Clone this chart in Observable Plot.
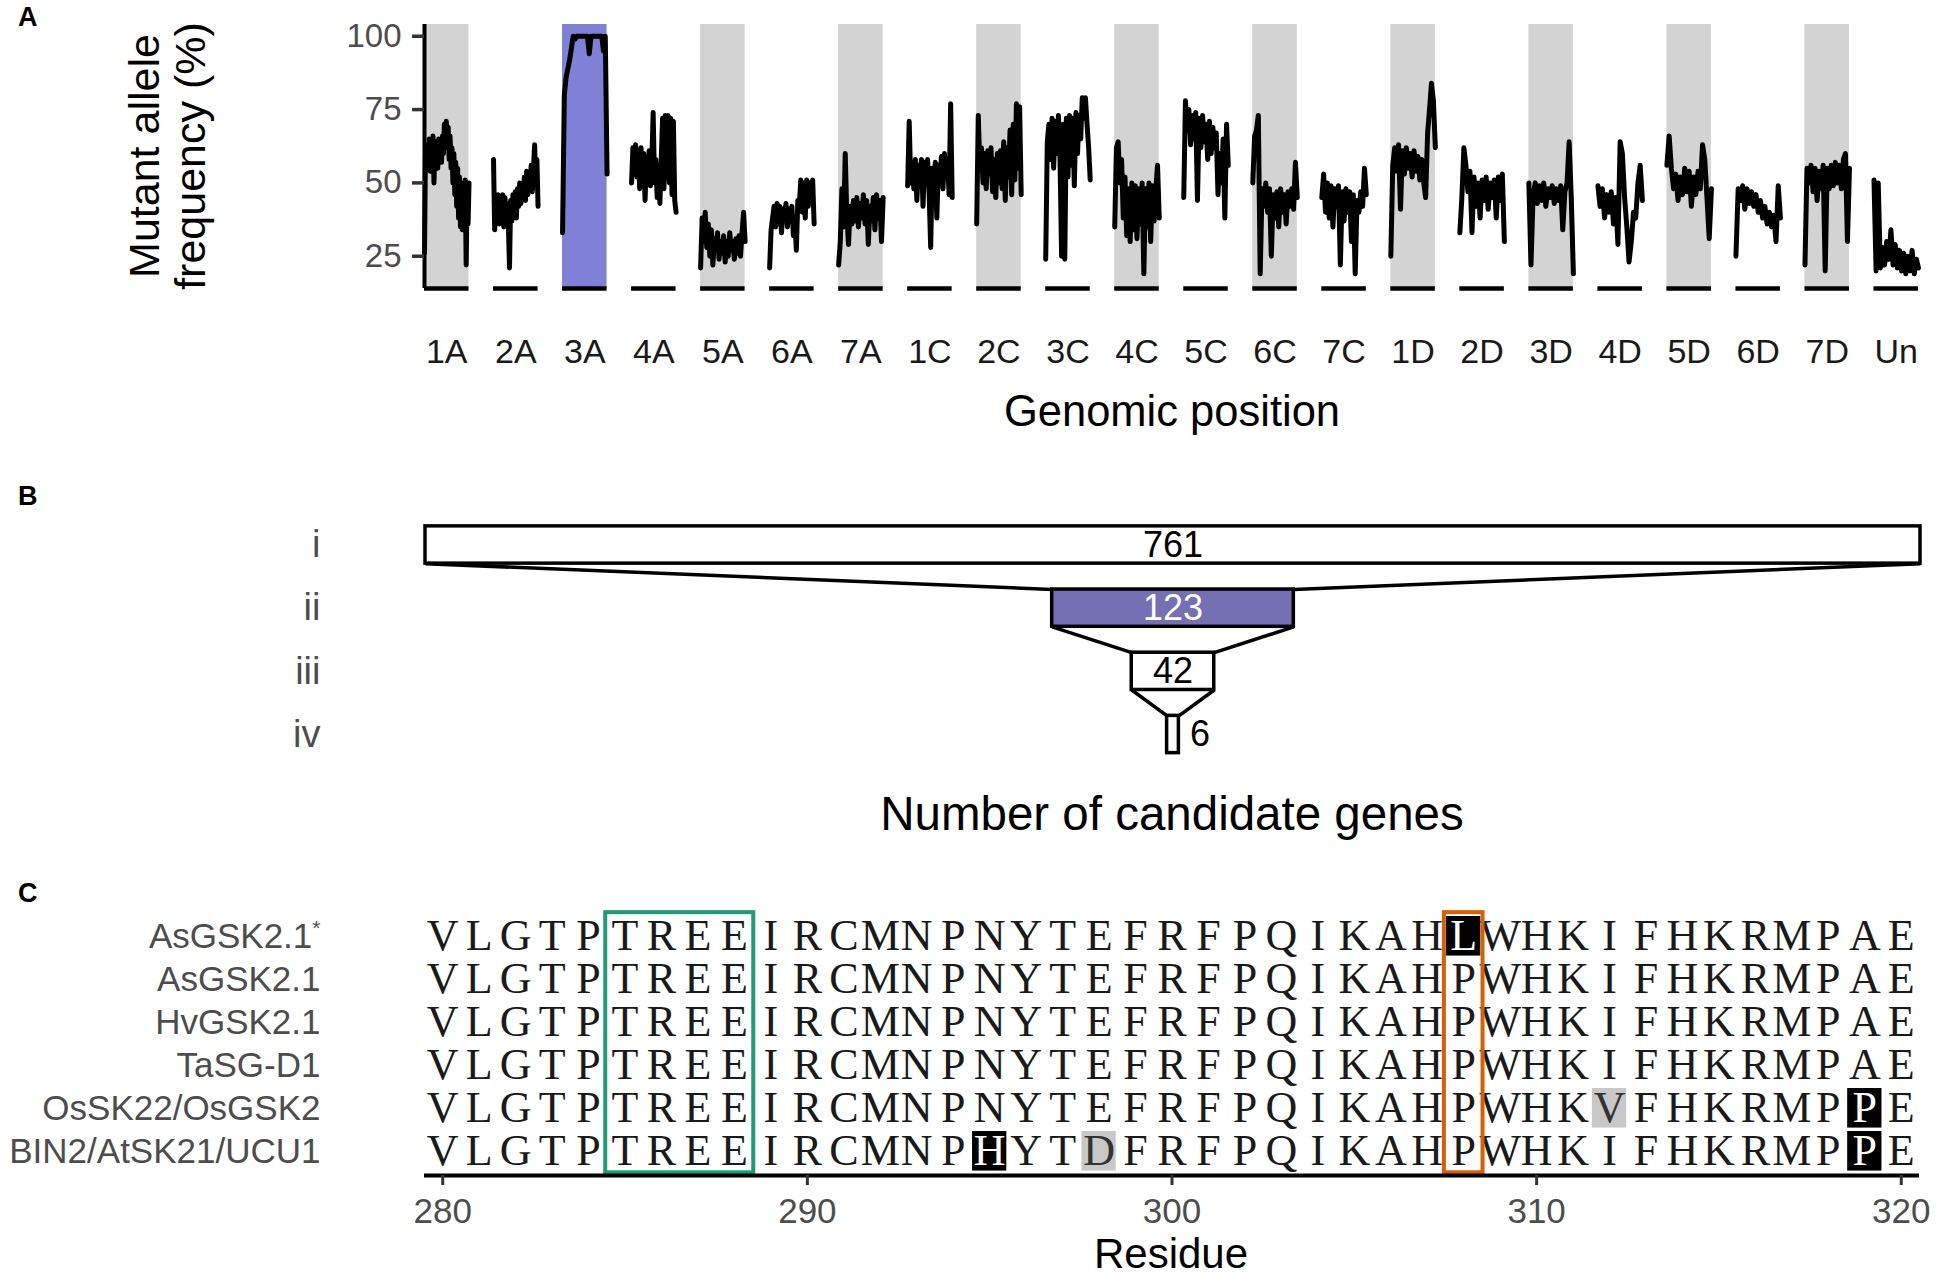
<!DOCTYPE html>
<html><head><meta charset="utf-8">
<script src="https://cdn.jsdelivr.net/npm/d3@7"></script>
<script src="https://cdn.jsdelivr.net/npm/@observablehq/plot@0.6"></script>
<style>
body{margin:0;background:#fff;}
#wrap{position:relative;width:1949px;height:1278px;overflow:hidden;font-family:"Liberation Sans",Arial,sans-serif;background:#fff;}
.panel{position:absolute;left:0;}
#overlay{position:absolute;left:0;top:0;pointer-events:none;}
</style></head><body>
<div id="wrap">
  <div class="panel" id="pa" style="top:0px"></div>
  <div class="panel" id="pb" style="top:470px"></div>
  <div class="panel" id="pc" style="top:870px"></div>
  <svg id="overlay" width="1949" height="1278" font-family="Liberation Sans, Arial, sans-serif">
    <text x="18" y="26" font-size="27" font-weight="bold">A</text>
    <text x="18" y="505" font-size="27" font-weight="bold">B</text>
    <text x="18" y="902" font-size="27" font-weight="bold">C</text>
    <text transform="translate(158.5,156) rotate(-90)" text-anchor="middle" font-size="43">Mutant allele</text>
    <text transform="translate(205,156) rotate(-90)" text-anchor="middle" font-size="43">frequency (%)</text>
    <text x="1172" y="426" text-anchor="middle" font-size="43.5">Genomic position</text>
    <text x="1172" y="830" text-anchor="middle" font-size="47.5">Number of candidate genes</text>
    <text x="1171" y="1268" text-anchor="middle" font-size="42">Residue</text>
  </svg>
</div>
<script>
// ---------- Panel A data: mutant allele frequency (%) along each chromosome ----------
const chroms = ["1A","2A","3A","4A","5A","6A","7A","1C","2C","3C","4C","5C","6C","7C","1D","2D","3D","4D","5D","6D","7D","Un"];
const highlightChrom = "3A";
const c1A = [26,60,55,63,57,65,54,62,58,66,50,63,56,64,55,65,59,63,57,66,60,70,62,71,64,69,58,66,55,62,50,60,46,57,42,55,38,52,35,50,34,48,38,51,22,47,36,50];
const c2A = [58,34,45,37,46,36,44,38,46,35,45,39,43,36,21,44,37,46,40,47,38,48,42,50,43,49,45,52,44,54,46,53,48,56,47,55,63,50,58,42];
const c3A = [33,80,86,89,92,96,100,99,100,100,100,100,100,100,100,94,100,100,100,100,100,100,100,95,100,53];
const c4A = [50,62,54,63,52,61,48,62,55,60,44,58,52,61,49,57,74,50,58,45,56,43,58,72,48,73,52,73,50,72,46,71,44,40];
const c5A = [21,38,30,40,28,36,25,34,22,31,27,33,24,30,26,32,23,30,25,33,27,30,24,31,26,32,25,33,40,30];
const c6A = [21,34,38,42,35,43,36,42,33,41,37,43,35,41,38,42,32,38,27,44,42,51,40,50,38,51,42,50,44,51,36];
const c7A = [22,30,48,35,60,38,29,42,36,44,37,45,35,43,38,46,36,44,29,42,37,45,34,46,38,44,30,45];
const c1C = [49,71,50,57,48,58,44,56,49,58,42,57,50,58,46,28,55,49,57,38,56,50,59,48,60,52,58,46,77,45];
const c2C = [36,73,55,62,50,60,48,61,53,62,47,58,45,60,50,61,48,64,44,62,52,68,46,70,51,77,55,76,46];
const c3C = [24,64,70,58,72,55,71,60,73,58,25,70,24,72,52,73,56,72,49,74,60,73,65,79,72,79,70,62,51];
const c4C = [35,62,64,50,58,38,52,32,48,30,50,34,49,31,48,36,50,19,48,35,50,30,49,37,48,56,38];
const c5C = [45,78,68,75,63,73,65,74,44,72,62,73,64,70,58,71,60,69,62,67,46,60,50,65,38,70,56];
const c6C = [50,66,68,73,19,48,42,50,40,48,25,46,38,47,35,48,40,46,36,47,42,48,41,57,45];
const c7C = [45,53,40,50,38,49,35,48,42,49,22,47,37,48,40,47,30,46,19,44,40,47,42,55,46];
const c1D = [25,56,62,54,63,41,61,53,62,55,60,52,61,54,59,51,58,50,45,67,75,84,78,62];
const c2D = [33,45,62,56,47,54,33,52,42,50,38,51,44,52,41,50,45,51,38,52,44,53,30];
const c3D = [50,22,46,50,43,49,44,50,42,48,45,49,43,48,44,49,34,47,50,64,45,19];
const c4D = [49,42,48,38,46,40,47,36,45,29,64,60,45,35,23,30,40,38,50,56,44];
const c5D = [56,66,55,48,53,44,52,46,55,47,54,42,52,46,54,48,63,58,45,31,48];
const c6D = [25,48,44,49,41,48,43,47,42,46,40,44,38,42,36,40,35,39,30,49,38];
const c7D = [22,55,50,56,47,55,44,54,48,56,20,55,48,56,49,57,50,56,48,58,60,30,55];
const cUn = [51,20,50,21,28,22,30,24,34,22,29,21,27,20,26,19,25,20,27,19,24,21];
const afSeries = [c1A,c2A,c3A,c4A,c5A,c6A,c7A,c1C,c2C,c3C,c4C,c5C,c6C,c7C,c1D,c2D,c3D,c4D,c5D,c6D,c7D,cUn];
const yTicksA = [25,50,75,100];

// ---------- Panel B data: candidate gene funnel ----------
const stages = ["i","ii","iii","iv"];
const geneCounts = [761,123,42,6];
const highlightStage = "ii";

// ---------- Panel C data: alignment ----------
const seqNames = ["AsGSK2.1","AsGSK2.1","HvGSK2.1","TaSG-D1","OsSK22/OsGSK2","BIN2/AtSK21/UCU1"];
const sequences = [
  "VLGTPTREEIRCMNPNYTEFRFPQIKAHLWHKIFHKRMPAE",
  "VLGTPTREEIRCMNPNYTEFRFPQIKAHPWHKIFHKRMPAE",
  "VLGTPTREEIRCMNPNYTEFRFPQIKAHPWHKIFHKRMPAE",
  "VLGTPTREEIRCMNPNYTEFRFPQIKAHPWHKIFHKRMPAE",
  "VLGTPTREEIRCMNPNYTEFRFPQIKAHPWHKVFHKRMPPE",
  "VLGTPTREEIRCMNPHYTDFRFPQIKAHPWHKIFHKRMPPE"
];
const firstResidue = 280;
const residueTicks = [280,290,300,310,320];
const hlRows = [0,4,4,5,5,5];
const hlResidues = [308,312,319,295,298,319];
const hlKinds = ["strong","weak","strong","strong","weak","strong"];
const boxFrom = [285,308];
const boxTo = [288,308];
const boxColors = ["#1b9e77","#d95f02"];

// ---------- colours ----------
const gray = "#d3d3d3", blueA = "#8080d6", blueB = "#7570b3";
const font = "Liberation Sans, Arial, sans-serif";

// ================= Panel A =================
const afData = chroms.flatMap((c,k)=>afSeries[k].map((v,i,a)=>({chrom:c,pos:i/(a.length-1),v})));
const bg = chroms.map((c,i)=>({chrom:c, fill: c===highlightChrom ? blueA : (i%2===0 ? gray : null)})).filter(d=>d.fill);
const yDom = [14,104];
const hA = 460;
const pA = Plot.plot({
  width:1949, height:hA, marginLeft:424, marginRight:31, marginTop:24, marginBottom:hA-288,
  style:{fontFamily:font, background:"transparent", overflow:"visible"},
  fx:{domain:chroms, paddingInner:0.355, paddingOuter:0, round:false, label:null},
  x:{domain:[0,1], axis:null},
  y:{domain:yDom, label:null},
  color:{type:"identity"},
  marks:[
    Plot.rect(bg,{fx:"chrom", x1:()=>0, x2:()=>1, y1:()=>yDom[0], y2:()=>yDom[1], fill:"fill"}),
    Plot.ruleY([yDom[0]],{stroke:"black", strokeWidth:4.5}),
    Plot.ruleX([0],{fx:()=>chroms[0], stroke:"black", strokeWidth:4}),
    Plot.line(afData,{fx:"chrom", x:"pos", y:"v", z:"chrom", stroke:"black", strokeWidth:5, strokeLinejoin:"round"}),
    Plot.axisY({ticks:yTicksA, tickSize:12, tickPadding:11, fontSize:33, fill:"#4d4d4d", stroke:"#333", strokeWidth:3.5, label:null}),
    Plot.axisFx({anchor:"bottom", tickSize:0, tickPadding:50, fontSize:34, fill:"#1a1a1a", label:null})
  ]
});
document.getElementById("pa").appendChild(pA);

// ================= Panel B =================
const bars = stages.map((s,i)=>({s, i, n:geneCounts[i],
  fill: s===highlightStage ? blueB : "white", tf: s===highlightStage ? "white" : "black"}));
const links = [];
for (let i=0;i<bars.length-1;i++){
  for (const side of [-1,1]) links.push({a:bars[i], b:bars[i+1], side});
}
const half = 0.295;
const pB = Plot.plot({
  width:1949, height:390, marginLeft:425, marginRight:29, marginTop:0, marginBottom:0,
  style:{fontFamily:font, background:"transparent", overflow:"visible"},
  x:{domain:[-380.5,380.5], axis:null},
  y:{domain:[0,3], range:[74.5,264]},
  color:{type:"identity"},
  marks:[
    Plot.link(links,{x1:d=>d.side*d.a.n/2, y1:d=>d.a.i+half, x2:d=>d.side*d.b.n/2, y2:d=>d.b.i-half, stroke:"black", strokeWidth:3.5}),
    Plot.rect(bars,{x1:d=>-d.n/2, x2:d=>d.n/2, y1:d=>d.i-half, y2:d=>d.i+half, fill:"fill", stroke:"black", strokeWidth:3.5}),
    Plot.text(bars.filter(d=>d.n>=20),{x:()=>0, y:"i", text:d=>String(d.n), fill:"tf", fontSize:36}),
    Plot.text(bars.filter(d=>d.n<20),{x:d=>d.n/2, y:"i", text:d=>String(d.n), fill:"tf", fontSize:36, textAnchor:"start", dx:11}),
    Plot.axisY({ticks:[0,1,2,3], tickFormat:i=>stages[i], tickSize:0, tickPadding:105, fontSize:38, fill:"#4d4d4d", label:null})
  ]
});
document.getElementById("pb").appendChild(pB);

// ================= Panel C =================
const hl = hlRows.map((r,k)=>({row:r, res:hlResidues[k], kind:hlKinds[k]}));
const hlKey = new Map(hl.map(d=>[d.row+"_"+d.res, d.kind]));
const cells = sequences.flatMap((s,row)=>Array.from(s).map((aa,j)=>{
  const res = firstResidue+j; const kind = hlKey.get(row+"_"+res);
  return {row, res, aa, tf: kind==="strong" ? "white" : (kind==="weak" ? "#333" : "#1a1a1a")};
}));
const boxes = boxFrom.map((f,k)=>({from:f, to:boxTo[k], color:boxColors[k]}));
const nRows = sequences.length;
const pC = Plot.plot({
  width:1949, height:408, marginLeft:424, marginRight:30, marginTop:0, marginBottom:103,
  style:{fontFamily:font, background:"transparent", overflow:"visible"},
  x:{domain:[279.5,320.5]},
  y:{domain:[0,nRows-1], range:[65.8,280.8]},
  color:{type:"identity"},
  marks:[
    Plot.rect(hl,{x1:d=>d.res-0.47, x2:d=>d.res+0.47, y1:d=>d.row-0.46, y2:d=>d.row+0.46, fill:d=>d.kind==="strong"?"black":"#c8c8c8"}),
    Plot.text(cells,{x:"res", y:"row", text:"aa", fill:"tf", fontFamily:"Liberation Serif, DejaVu Serif, serif", fontSize:44, ariaLabel:"residue letters"}),
    Plot.rect(boxes,{x1:d=>d.from-0.53, x2:d=>d.to+0.53, y1:()=>-0.55, y2:()=>nRows-1+0.5, fill:"none", stroke:"color", strokeWidth:4}),
    Plot.ruleY([nRows-1+0.56],{stroke:"black", strokeWidth:4}),
    Plot.axisX({ticks:residueTicks, tickSize:10, tickPadding:13, fontSize:35, fill:"#4d4d4d", stroke:"#333", strokeWidth:3, label:null}),
    Plot.axisY({ticks:d3.range(nRows), tickFormat:i=>seqNames[i], tickSize:0, tickPadding:104, fontSize:35, fill:"#4d4d4d", label:null})
  ]
});
document.getElementById("pc").appendChild(pC);
// narrow the serif letters so they look like a typewriter face
pC.querySelectorAll('g[aria-label="residue letters"] text').forEach(t=>{
  const tr = t.getAttribute("transform");
  if (tr) { t.setAttribute("transform", tr + " scale(0.74,1)"); }
  else {
    const x = t.getAttribute("x") || 0, y = t.getAttribute("y") || 0;
    t.removeAttribute("x"); t.removeAttribute("y");
    t.setAttribute("transform", `translate(${x},${y}) scale(0.74,1)`);
  }
});
// superscript asterisk on the first (mutant) sequence name
const yLabels = pC.querySelectorAll('g[aria-label="y-axis tick label"] text');
if (yLabels.length) {
  const t = yLabels[0];
  const ts = document.createElementNS("http://www.w3.org/2000/svg","tspan");
  ts.setAttribute("dy","-0.6em"); ts.setAttribute("font-size","0.6em");
  ts.textContent = "*";
  t.appendChild(ts);
}
</script>
</body></html>
